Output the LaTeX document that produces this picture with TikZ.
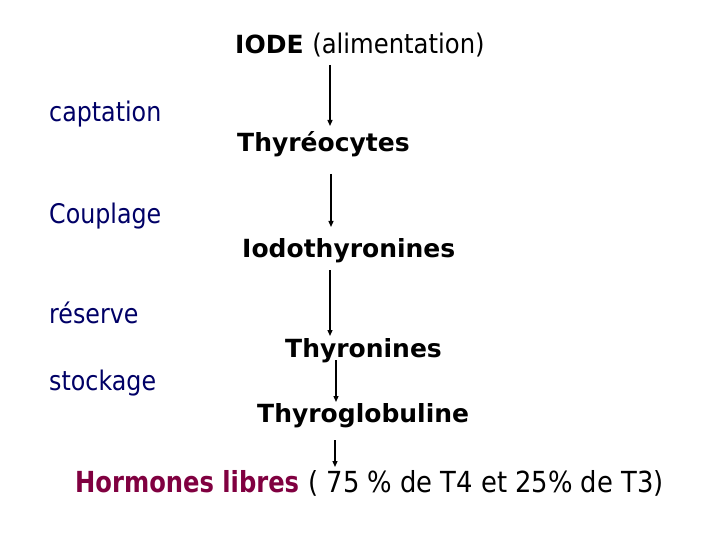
\documentclass[tikz,border=0pt]{standalone}
\usepackage{fontspec}
\usepackage{graphicx}
\setmainfont{DejaVu Sans}
\usetikzlibrary{arrows.meta}
\definecolor{navy}{RGB}{0,0,102}
\definecolor{lie}{RGB}{128,0,64}
\newcommand{\cond}[2][0.88]{\scalebox{#1}[1]{#2}}

\begin{document}
\begin{tikzpicture}
      [   x=1pt,y=-1pt,
          etape/.style={font=\bfseries\fontsize{25}{30}\selectfont,anchor=base west,inner sep=0pt},
          role/.style={text=navy,font=\fontsize{27}{32}\selectfont,anchor=base west,inner sep=0pt},
          flow/.style={-{Triangle[length=6pt,width=5pt]},line width=1.3pt},
      ]
          \useasboundingbox (0,0) rectangle (720,540);
          \node[etape] (iode) at (235,54) {IODE {\mdseries\fontsize{27}{32}\selectfont\cond[0.9]{(alimentation)}}};
          \node[etape] (thyreo) at (237,152) {Thyréocytes};
          \node[etape] (iodo) at (242,257) {Iodothyronines};
          \node[etape] (thyron) at (285,357) {Thyronines};
          \node[etape] (thyrog) at (257,422) {Thyroglobuline};
          \node[anchor=base west,inner sep=0pt,font=\fontsize{29}{34}\selectfont] (horm) at (75,492)
              {\textcolor{lie}{\bfseries\cond[0.835]{Hormones libres}} \cond[0.89]{( 75 \% de T4 et 25\% de T3)}};
          \foreach \nom/\txt/\y in {capt/captation/122,coupl/Couplage/223,res/réserve/323,stock/stockage/390}
          {   \node[role] (\nom) at (49,\y) {\cond{\txt}};
          }
          % fleches verticales
          \foreach \a/\b/\x/\s/\e in {iode/thyreo/330/11/26,thyreo/iodo/331/22/30,iodo/thyron/330/13/21,thyron/thyrog/336/3/20,thyrog/horm/335/18/25}
          {   \draw[flow,shorten <=\s pt,shorten >=\e pt] (\a.base -| \x,0) -- (\b.base -| \x,0);
          }
    \end{tikzpicture}
\end{document}
